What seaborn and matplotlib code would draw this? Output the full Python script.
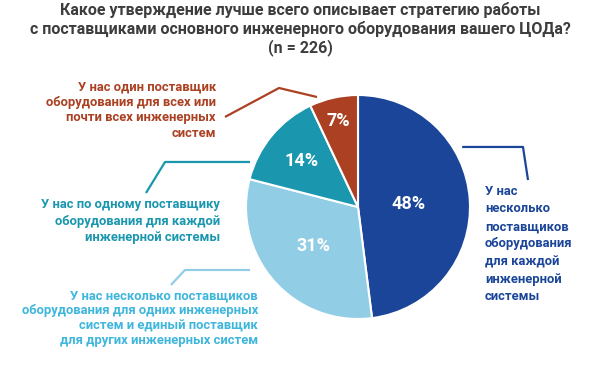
import numpy as np
import matplotlib.pyplot as plt
import seaborn as sns

# данные
categories = [
    "У нас\nнесколько\nпоставщиков\nоборудования\nдля каждой\nинженерной\nсистемы",
    "У нас несколько поставщиков\nоборудования для одних инженерных\nсистем и единый поставщик\nдля других инженерных систем",
    "У нас по одному поставщику\nоборудования для каждой\nинженерной системы",
    "У нас один поставщик\nоборудования для всех или\nпочти всех инженерных\nсистем",
]
values = [48, 31, 14, 7]
pct_labels = ["48%", "31%", "14%", "7%"]

slice_colors = ["#1b4599", "#92cde6", "#1a97ae", "#ab4122"]
text_colors = ["#1b4599", "#3fb6dc", "#1a97ae", "#ab4122"]
title = ("Какое утверждение лучше всего описывает стратегию работы\n"
         "с поставщиками основного инженерного оборудования вашего ЦОДа?\n"
         "(n = 226)")

sns.set_theme(style="white")
plt.rcParams['font.family'] = ['Roboto', 'DejaVu Sans']

W, H = 600, 377
fig = plt.figure(figsize=(6, 3.77), dpi=100)
ax = fig.add_axes([0, 0, 1, 1])

cx, cy, r = 358, H - 207, 112
wedges, texts = ax.pie(values, colors=slice_colors, startangle=90, counterclock=False,
                       center=(cx, cy), radius=r, frame=True,
                       wedgeprops=dict(edgecolor='white', linewidth=1.5))
ax.set_xlim(0, W)
ax.set_ylim(0, H)
ax.set_aspect('equal')
ax.axis('off')

# подписи процентов внутри секторов
pct_dist = [0.45, 0.53, 0.65, 0.79]
for w, lab, d in zip(wedges, pct_labels, pct_dist):
    ang = np.deg2rad((w.theta1 + w.theta2) / 2)
    ax.text(cx + d * r * np.cos(ang), cy + d * r * np.sin(ang), lab,
            color='white', fontsize=13, fontweight='bold', ha='center', va='center')

# выноски (в долях радиуса от центра)
leaders = [
    [(0.93, 0.536), (1.473, 0.536), (1.518, 0.241)],
    [(-0.964, -0.5625), (-1.545, -0.5625), (-1.67, -0.696)],
    [(-0.964, 0.402), (-1.723, 0.402), (-1.893, 0.125)],
    [(-0.366, 0.982), (-0.705, 1.0625), (-1.1875, 0.804)],
]
for pts, c in zip(leaders, slice_colors):
    xs = [cx + p[0] * r for p in pts]
    ys = [cy + p[1] * r for p in pts]
    ax.plot(xs, ys, color=c, lw=1.6, solid_capstyle='butt')

# текст категорий
label_pos = [(485, 244, 'left'), (258, 318, 'right'), (220, 221, 'right'), (216, 110, 'right')]
spacing = [1.45, 1.2, 1.35, 1.25]
for txt, (x, y, ha), c, ls in zip(categories, label_pos, text_colors, spacing):
    ax.text(x, H - y, txt, color=c, fontsize=9.4, fontweight='bold',
            ha=ha, va='center', multialignment=ha, linespacing=ls)

fig.text(0.5, 1 - 29 / H, title, ha='center', va='center', fontsize=11.5,
         fontweight='bold', color='#3d3d3d', linespacing=1.2)

fig.savefig('out.png', dpi=100)
